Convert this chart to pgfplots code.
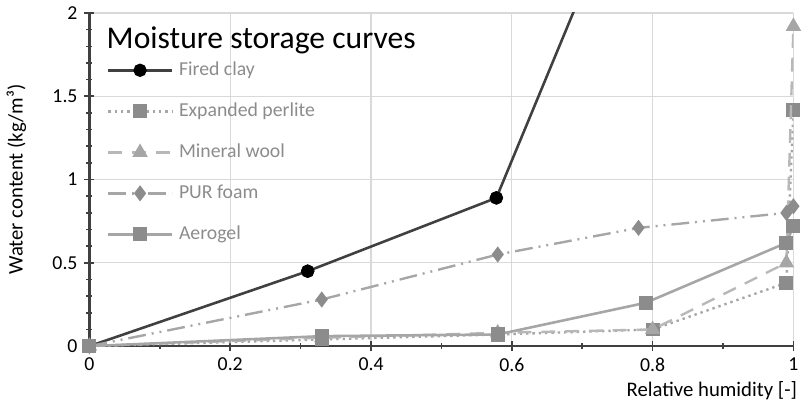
\documentclass[border=0pt]{standalone}
\usepackage{pgfplots}
\pgfplotsset{compat=1.18}
\usepackage{fontspec}
\setmainfont{Carlito}
\definecolor{dk}{HTML}{404040}
\definecolor{lg}{HTML}{A6A6A6}
\definecolor{mg}{HTML}{8C8C8C}
\definecolor{gridc}{HTML}{D9D9D9}
\begin{document}
\begin{tikzpicture}[x=1bp,y=1bp]
\begin{axis}[
  scale only axis,
  width=355bp, height=168bp,
  xmin=0, xmax=1, ymin=0, ymax=2,
  xtick={0,0.2,0.4,0.6,0.8,1}, ytick={0,0.5,1,1.5,2},
  xticklabels={0,0.2,0.4,0.6,0.8,1},
  yticklabels={0,0.5,1,1.5,2},
  minor x tick num=1, minor y tick num=4,
  axis x line*=bottom, axis y line*=left,
  axis line style={dk, line width=1.2bp, -},
  tick style={dk, line width=0.8bp},
  major tick length=5bp, minor tick length=3bp,
  tick align=center,
  grid=major, major grid style={gridc, line width=0.6bp},
  ticklabel style={font=\fontsize{10}{12}\selectfont, text=black},
  xlabel={Relative humidity [-]},
  ylabel={Water content (kg/m³)},
  label style={font=\fontsize{10.5}{12}\selectfont},
  xlabel style={at={(axis description cs:1.015,-0.085)}, anchor=north east},
  ylabel style={at={(axis description cs:-0.08,0.5)}, anchor=south},
  clip mode=individual,
  legend style={at={(axis description cs:0.016,0.878)}, anchor=north west, draw=none, fill=none,
    font=\fontsize{10}{12}\selectfont, text=mg, row sep=8.3bp, legend cell align=left,
    nodes={inner xsep=3bp}},
  legend image code/.code={\draw[mark repeat=2,mark phase=2,#1] plot coordinates {(0bp,0bp)(16bp,0bp)(32bp,0bp)};},
]
\addplot[dk, line width=1.3bp, mark=*, mark size=2.7bp, mark options={solid, fill=black, draw=black}]
  coordinates {(0,0) (0.31,0.45) (0.578,0.89)};
\addlegendentry{Fired clay}
\addplot[lg, line width=1.2bp, dotted, mark=square*, mark size=2.9bp, mark options={solid, fill=mg, draw=mg}]
  coordinates {(0,0) (0.33,0.04) (0.58,0.07) (0.80,0.10) (0.99,0.38) (1.0,1.42)};
\addlegendentry{Expanded perlite}
\addplot[lg!80, line width=1.2bp, dash pattern=on 7bp off 5bp, mark=triangle*, mark size=3.3bp, mark options={solid, fill=lg, draw=lg}]
  coordinates {(0,0) (0.33,0.05) (0.58,0.08) (0.80,0.10) (0.99,0.50) (1.0,1.92)};
\addlegendentry{Mineral wool}
\addplot[lg, line width=1.2bp, dash pattern=on 9bp off 3bp on 1bp off 3bp on 1bp off 3bp, mark=diamond*, mark size=3.1bp, mark options={solid, fill=mg, draw=mg}]
  coordinates {(0,0) (0.33,0.28) (0.58,0.55) (0.78,0.71) (0.99,0.80) (1.0,0.84)};
\addlegendentry{PUR foam}
\addplot[lg, line width=1.3bp, mark=square*, mark size=2.9bp, mark options={solid, fill=mg, draw=mg}]
  coordinates {(0,0) (0.33,0.06) (0.58,0.07) (0.79,0.26) (0.99,0.62) (1.0,0.72)};
\addlegendentry{Aerogel}
\addplot[dk, line width=1.3bp, no marks, forget plot]
  coordinates {(0.578,0.89) (0.80,3.15)};
\addplot[dk, line width=1.3bp, mark=*, mark size=2.7bp, mark options={solid, fill=black, draw=black}, only marks, forget plot]
  coordinates {(0.31,0.45) (0.578,0.89)};
\node[anchor=north west, font=\fontsize{16}{18}\selectfont, text=black, inner sep=0pt]
  at (axis description cs:0.024,0.96) {Moisture storage curves};
\end{axis}
\end{tikzpicture}
\end{document}
